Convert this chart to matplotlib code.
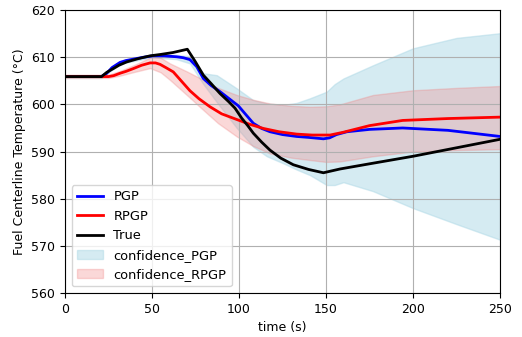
import matplotlib
matplotlib.use("Agg")
import matplotlib.pyplot as plt
import numpy as np

# time in s, temperature in deg C
t_true = [0, 21, 24, 27.8, 31, 35.4, 42, 48.9, 55, 62, 70.3, 75, 79.5, 84, 89.1, 94, 97.7, 101.5, 105, 108.2, 113, 117.8, 124, 131.2, 140, 148.5, 158, 175, 200, 225, 250]
y_true = [605.9, 605.9, 606.8, 607.6, 608.3, 609.0, 609.7, 610.3, 610.6, 611.0, 611.7, 609.0, 606.2, 604.4, 602.3, 600.6, 599.2, 597.1, 595.5, 593.9, 592.0, 590.3, 588.6, 587.2, 586.2, 585.5, 586.3, 587.4, 589.0, 590.8, 592.6]

t_pgp = [0, 21, 24, 27, 31.6, 35, 39.3, 45, 50.7, 57, 64.2, 68, 71.8, 75.7, 79.5, 84, 89.1, 94, 99.6, 104, 108.2, 113, 117.8, 125, 133.1, 140, 148.5, 152, 156, 162, 175, 194, 220, 250]
y_pgp = [605.9, 605.9, 606.6, 607.8, 608.9, 609.3, 609.6, 610.0, 610.3, 610.3, 610.1, 609.9, 609.5, 608.0, 605.5, 604.0, 602.7, 601.3, 599.7, 597.8, 596.0, 594.9, 594.2, 593.6, 593.2, 593.0, 592.7, 592.9, 593.6, 594.2, 594.7, 595.0, 594.5, 593.2]

t_rpgp = [0, 25, 28, 31.6, 35, 39.3, 44, 48.9, 52, 54.6, 58, 62.2, 67, 71.8, 77, 83.3, 90, 98.7, 106, 114, 123, 133.1, 142, 152.3, 160, 175, 194, 220, 250]
y_rpgp = [605.9, 605.9, 606.1, 606.6, 607.0, 607.6, 608.3, 608.8, 608.8, 608.5, 607.8, 606.9, 604.9, 602.9, 601.2, 599.5, 598.0, 596.8, 595.8, 594.9, 594.2, 593.7, 593.5, 593.5, 594.1, 595.5, 596.6, 597.0, 597.3]

t_cpgp = [0, 21, 31.6, 50, 64, 71.8, 79.5, 87.2, 98.7, 108.2, 116, 125.5, 133, 140.8, 150.4, 155, 160, 177, 200, 225, 250]
up_pgp = [606.2, 606.2, 609.2, 610.6, 610.5, 610.2, 606.6, 606.2, 603.4, 600.9, 600.2, 599.9, 600.3, 601.3, 602.7, 604.3, 605.5, 608.3, 611.9, 614.1, 615.1]
lo_pgp = [605.6, 605.6, 608.6, 610.0, 609.6, 608.7, 604.3, 600.5, 595.0, 591.0, 589.0, 587.5, 586.2, 585.0, 582.9, 582.9, 583.5, 581.6, 578.0, 574.6, 571.3]

t_crpgp = [0, 25, 31.6, 40, 48.9, 55, 60.3, 70, 79.5, 88, 98.7, 108, 117.8, 130, 140.8, 150, 158, 177, 200, 225, 250]
up_rpgp = [606.3, 606.3, 607.1, 608.4, 609.9, 609.9, 608.7, 607.0, 605.2, 603.5, 602.0, 601.0, 600.2, 599.7, 599.5, 599.6, 600.0, 602.0, 603.0, 603.5, 603.9]
lo_rpgp = [605.6, 605.6, 606.1, 606.9, 607.7, 606.8, 605.2, 602.0, 598.8, 596.0, 593.2, 591.2, 589.6, 588.7, 588.2, 587.8, 587.9, 589.0, 590.0, 590.3, 590.5]

matplotlib.rcParams.update({"font.size": 9})
fig, ax = plt.subplots(figsize=(5.22, 3.37), dpi=100)
fig.subplots_adjust(left=0.1245, right=0.958, top=0.970, bottom=0.1306)

ax.plot(t_pgp, y_pgp, "b-", linewidth=2, label="PGP")
ax.plot(t_rpgp, y_rpgp, "r-", linewidth=2, label="RPGP")
ax.plot(t_true, y_true, "k-", linewidth=2, label="True")
ax.fill_between(t_cpgp, lo_pgp, up_pgp, color="lightblue", alpha=0.5, label="confidence_PGP")
ax.fill_between(t_crpgp, lo_rpgp, up_rpgp, color="lightcoral", alpha=0.3, label="confidence_RPGP")

ax.set_xlim(0, 250)
ax.set_ylim(560, 620)
ax.grid(True)
ax.legend(loc="lower left", fontsize=9.4)
ax.set_xlabel("time (s)")
ax.set_ylabel("Fuel Centerline Temperature (°C)")
fig.savefig("out.png", dpi=100)
